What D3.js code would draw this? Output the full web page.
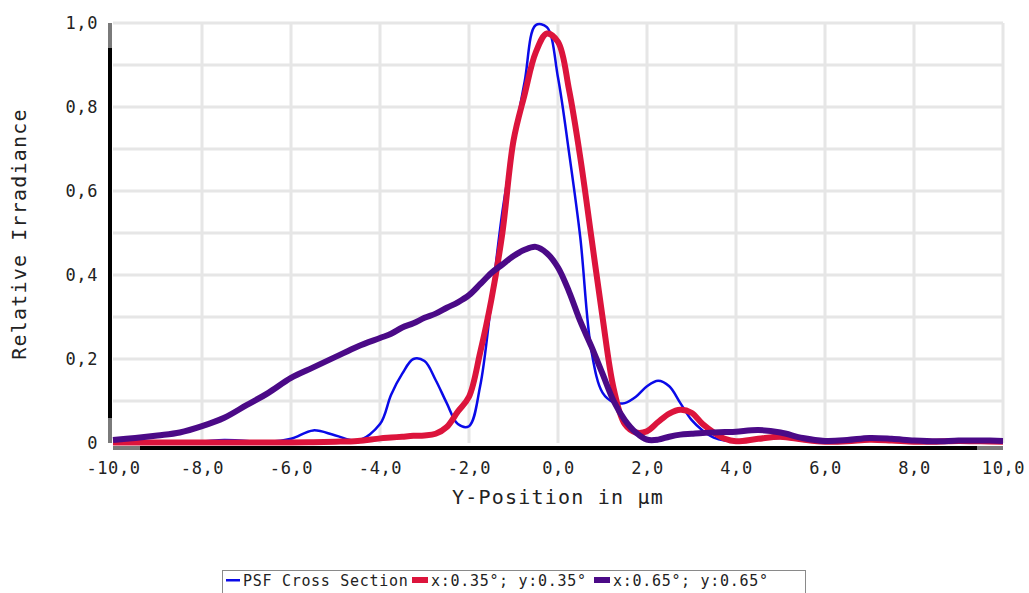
<!DOCTYPE html>
<html>
<head>
<meta charset="utf-8">
<script src="https://cdn.jsdelivr.net/npm/d3@7"></script>
<style>
  body { margin: 0; background: #fff; }
  text { font-family: "DejaVu Sans Mono", monospace; fill: #222; }
</style>
</head>
<body>
<svg id="chart"></svg>
<script>
// sample positions (µm)
const positions = [-10, -9.5, -9, -8.5, -8, -7.5, -7, -6.5, -6, -5.5, -5, -4.5, -4,
  -3.75, -3.5, -3.25, -3, -2.75, -2.5, -2.25, -2, -1.75, -1.5, -1.25, -1, -0.75, -0.5, -0.25,
  0, 0.25, 0.5, 0.75, 1, 1.25, 1.5, 1.75, 2, 2.25, 2.5, 2.75, 3, 3.25, 3.5, 3.75, 4,
  4.5, 5, 5.5, 6, 6.5, 7, 7.5, 8, 8.5, 9, 9.5, 10];

const psfCross = [0.002, 0.002, 0.002, 0.003, 0.004, 0.007, 0.005, 0.003, 0.01, 0.03, 0.018, 0.006, 0.045,
  0.115, 0.165, 0.2, 0.195, 0.15, 0.095, 0.045, 0.04, 0.135, 0.335, 0.55, 0.714, 0.86, 0.995, 0.99,
  0.87, 0.69, 0.49, 0.22, 0.12, 0.097, 0.095, 0.11, 0.135, 0.148, 0.135, 0.095, 0.055, 0.03, 0.013, 0.006, 0.005,
  0.01, 0.012, 0.006, 0.003, 0.005, 0.008, 0.005, 0.003, 0.004, 0.006, 0.005, 0.004];

const field035 = [0.001, 0.001, 0.001, 0.001, 0.001, 0.001, 0.001, 0.001, 0.001, 0.002, 0.003, 0.005, 0.011,
  0.013, 0.015, 0.017, 0.018, 0.022, 0.038, 0.075, 0.11, 0.215, 0.34, 0.5, 0.72, 0.83, 0.93, 0.975,
  0.955, 0.84, 0.68, 0.49, 0.3, 0.13, 0.045, 0.025, 0.028, 0.05, 0.07, 0.079, 0.072, 0.045, 0.025, 0.01, 0.004,
  0.01, 0.015, 0.008, 0.003, 0.004, 0.008, 0.006, 0.003, 0.003, 0.005, 0.004, 0.003];

const field065 = [0.007, 0.012, 0.018, 0.025, 0.04, 0.06, 0.09, 0.12, 0.155, 0.18, 0.205, 0.23, 0.25,
  0.26, 0.275, 0.285, 0.298, 0.308, 0.322, 0.335, 0.352, 0.378, 0.405, 0.425, 0.445, 0.46, 0.467, 0.452,
  0.418, 0.36, 0.29, 0.23, 0.165, 0.1, 0.055, 0.025, 0.008, 0.008, 0.015, 0.02, 0.022, 0.024, 0.025, 0.026, 0.027,
  0.031, 0.025, 0.012, 0.005, 0.007, 0.012, 0.01, 0.006, 0.004, 0.006, 0.006, 0.005];

const seriesNames = ["PSF Cross Section", "x:0.35°; y:0.35°", "x:0.65°; y:0.65°"];
const seriesColors = ["#0a0ae8", "#dc143c", "#4b0a87"];
const xTickValues = [-10, -8, -6, -4, -2, 0, 2, 4, 6, 8, 10];
const yTickValues = [0, 0.2, 0.4, 0.6, 0.8, 1.0];
const yTickLabels = ["0", "0,2", "0,4", "0,6", "0,8", "1,0"];

const width = 1029, height = 593;
const margin = { top: 23, left: 113, right: 26, bottom: 150 };
const innerW = width - margin.left - margin.right;
const innerH = height - margin.top - margin.bottom;

const svg = d3.select("#chart").attr("width", width).attr("height", height);
const g = svg.append("g").attr("transform", `translate(${margin.left},${margin.top})`);

const x = d3.scaleLinear().domain([-10, 10]).range([0, innerW]);
const y = d3.scaleLinear().domain([0, 1]).range([innerH, 0]);

// grid
g.append("g").selectAll("line").data(d3.range(1, 11).map(d => d / 10)).join("line")
  .attr("x1", 0).attr("x2", innerW)
  .attr("y1", d => y(d)).attr("y2", d => y(d))
  .attr("stroke", "#e6e6e6").attr("stroke-width", 3);
g.append("g").selectAll("line").data(xTickValues.slice(1)).join("line")
  .attr("x1", d => x(d)).attr("x2", d => x(d))
  .attr("y1", 0).attr("y2", innerH)
  .attr("stroke", "#e6e6e6").attr("stroke-width", 3);

// axis bars
g.append("rect").attr("x", -5).attr("y", 0).attr("width", 4).attr("height", innerH).attr("fill", "#000");
g.append("rect").attr("x", -5).attr("y", 0).attr("width", 4).attr("height", 25).attr("fill", "#7a7a7a");
g.append("rect").attr("x", -5).attr("y", innerH - 25).attr("width", 4).attr("height", 25).attr("fill", "#7a7a7a");
g.append("rect").attr("x", 0).attr("y", innerH + 3).attr("width", innerW).attr("height", 4).attr("fill", "#000");
g.append("rect").attr("x", 0).attr("y", innerH + 3).attr("width", 27).attr("height", 4).attr("fill", "#7a7a7a");
g.append("rect").attr("x", innerW - 26).attr("y", innerH + 3).attr("width", 26).attr("height", 4).attr("fill", "#7a7a7a");

// lines
const line = d3.line().x(d => x(d[0])).y(d => y(Math.max(0, d[1]))).curve(d3.curveCatmullRom.alpha(0.5));
[psfCross, field035, field065].forEach((vals, i) => {
  g.append("path")
    .datum(positions.map((p, j) => [p, vals[j]]))
    .attr("fill", "none")
    .attr("stroke", seriesColors[i])
    .attr("stroke-width", i === 0 ? 2.5 : 6)
    .attr("stroke-linejoin", "round")
    .attr("d", line);
});

// tick labels
const yAxis = g.append("g").attr("transform", "translate(-12,0)")
  .call(d3.axisLeft(y).tickValues(yTickValues).tickSize(0).tickFormat((d, i) => yTickLabels[i]));
yAxis.select(".domain").remove();
yAxis.selectAll("text").attr("font-size", 17).attr("letter-spacing", 0.6)
  .attr("font-family", "DejaVu Sans Mono").attr("fill", "#222");

const xAxis = g.append("g").attr("transform", `translate(0,${innerH + 16})`)
  .call(d3.axisBottom(x).tickValues(xTickValues).tickSize(0)
    .tickFormat(d => d3.format(".1f")(d).replace(".", ",").replace("−", "-")));
xAxis.select(".domain").remove();
xAxis.selectAll("text").attr("font-size", 17).attr("letter-spacing", 0.6)
  .attr("font-family", "DejaVu Sans Mono").attr("fill", "#222");

// axis titles
svg.append("text").attr("x", 558).attr("y", 504).attr("text-anchor", "middle")
  .attr("font-size", 20).attr("letter-spacing", 1.2).text("Y-Position in µm");
svg.append("text").attr("transform", "translate(26,234) rotate(-90)").attr("text-anchor", "middle")
  .attr("font-size", 20).attr("letter-spacing", 1.2).text("Relative Irradiance");

// legend
const legend = svg.append("g").attr("transform", "translate(222,570)");
legend.append("rect").attr("x", 0.5).attr("y", 0.5).attr("width", 583).attr("height", 30)
  .attr("fill", "#fff").attr("stroke", "#8a8a8a");
const legendX = [4, 190, 372];
seriesNames.forEach((name, i) => {
  const it = legend.append("g").attr("transform", `translate(${legendX[i]},0)`);
  if (i === 0) {
    it.append("rect").attr("x", 0).attr("y", 9).attr("width", 14).attr("height", 2.5).attr("fill", seriesColors[i]);
  } else {
    it.append("rect").attr("x", 0).attr("y", 7).attr("width", 16).attr("height", 6).attr("fill", seriesColors[i]);
  }
  it.append("text").attr("x", i === 0 ? 17 : 19).attr("y", 16).attr("font-size", 15)
    .attr("letter-spacing", 0.7).text(name);
});
</script>
</body>
</html>
